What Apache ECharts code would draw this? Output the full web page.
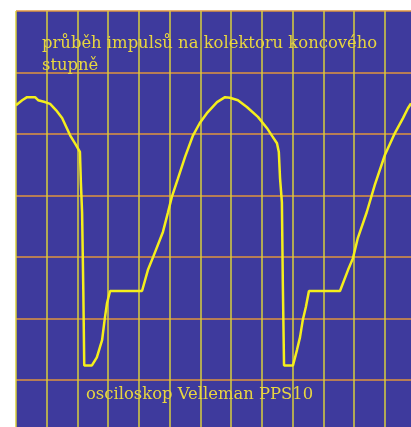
<!DOCTYPE html>
<html>
<head>
<meta charset="utf-8">
<script src="https://cdn.jsdelivr.net/npm/echarts@6/dist/echarts.min.js"></script>
<style>
  html, body { margin: 0; padding: 0; background: #fff; }
  #scope { width: 411px; height: 427px; }
</style>
</head>
<body>
<div id="scope"></div>
<script>
// time in divisions from left edge, level in divisions from top edge
const times = [0, 0.2, 0.36, 0.62, 0.72, 0.94, 1.11, 1.3, 1.5, 1.76, 1.92, 2.08, 2.11, 2.15, 2.15, 2.19, 2.19, 2.22, 2.22, 2.47,
  2.63, 2.8, 2.89, 2.96, 3.06, 4.1, 4.29, 4.46, 4.78, 4.94, 5.07, 5.27, 5.5, 5.76, 5.98, 6.21, 6.54, 6.8, 6.96,
  7.22, 7.51, 7.87, 8.16, 8.33, 8.49, 8.55, 8.59, 8.65, 8.65, 8.68, 8.68, 8.72, 8.72, 9.01,
  9.14, 9.24, 9.33, 9.43, 9.53, 10.54, 10.8, 10.96, 11.12, 11.41, 11.67, 12.0, 12.33, 12.59, 12.75, 12.85];
const levels = [1.53, 1.45, 1.4, 1.4, 1.45, 1.48, 1.51, 1.61, 1.74, 2.02, 2.15, 2.29, 2.78, 2.78, 3.27, 3.27, 4.54, 4.54, 5.76, 5.76,
  5.63, 5.35, 4.99, 4.75, 4.55, 4.55, 4.21, 4.0, 3.59, 3.28, 3.02, 2.72, 2.37, 2.02, 1.82, 1.66, 1.48, 1.4, 1.41,
  1.45, 1.56, 1.72, 1.9, 2.03, 2.15, 2.29, 2.72, 2.72, 3.11, 3.11, 4.42, 4.42, 5.76, 5.76,
  5.51, 5.3, 5.02, 4.81, 4.55, 4.55, 4.21, 4.02, 3.69, 3.27, 2.83, 2.34, 1.98, 1.74, 1.58, 1.5];

const titleText = 'průběh impulsů na kolektoru koncového\nstupně';
const footText = 'osciloskop Velleman PPS10';

const trace = times.map((t, i) => [t, levels[i]]);

const chart = echarts.init(document.getElementById('scope'));
chart.setOption({
  animation: false,
  title: [
    {
      text: titleText,
      left: 37, top: 28,
      textStyle: { color: '#e8d640', fontFamily: 'DejaVu Serif', fontWeight: 'normal', fontSize: 16.4, lineHeight: 22 }
    },
    {
      text: footText,
      left: 81, top: 382,
      textStyle: { color: '#e8d640', fontFamily: 'DejaVu Serif', fontWeight: 'normal', fontSize: 16.4 }
    }
  ],
  grid: {
    left: 16, top: 11, right: 0, bottom: 0,
    show: true, backgroundColor: '#3e3a9d', borderWidth: 0
  },
  xAxis: {
    type: 'value', min: 0, max: 12.85, interval: 1,
    axisLine: { show: false }, axisTick: { show: false }, axisLabel: { show: false },
    splitLine: { show: true, showMaxLine: false, lineStyle: { color: '#d8cf3c', width: 1.5 } }
  },
  yAxis: {
    type: 'value', inverse: true, min: 0, max: 6.76, interval: 1,
    axisLine: { show: false }, axisTick: { show: false }, axisLabel: { show: false },
    splitLine: { show: true, showMaxLine: false, lineStyle: { color: '#e0943e', width: 1.5 } }
  },
  series: [{
    type: 'line',
    data: trace,
    showSymbol: false,
    lineStyle: { color: '#f4ee1c', width: 2.5 },
    z: 3
  }]
});
</script>
</body>
</html>
